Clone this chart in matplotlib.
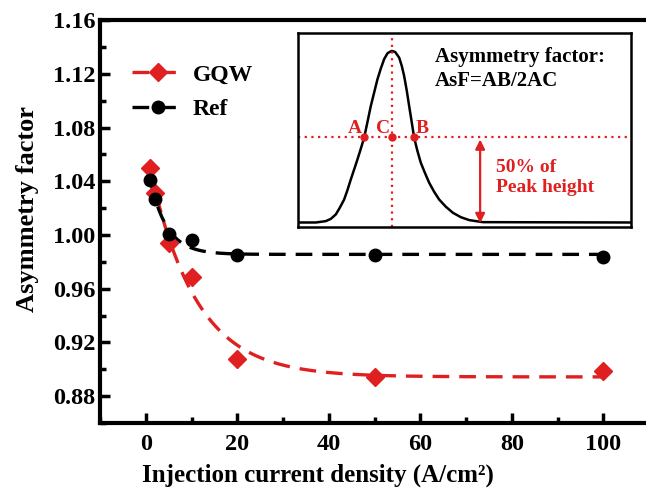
import numpy as np
import matplotlib
matplotlib.use("Agg")
import matplotlib.pyplot as plt
from matplotlib.ticker import MultipleLocator, FormatStrFormatter

# ---- data ----
current = [1, 2, 5, 10, 20, 50, 100]
gqw = [1.050, 1.031, 0.994, 0.969, 0.908, 0.894, 0.899]
ref = [1.041, 1.027, 1.001, 0.996, 0.985, 0.985, 0.984]

# inset schematic peak (arbitrary units)
peak_x = [0, 2.4, 5.4, 8.4, 9.9, 11.4, 12.6, 13.9, 14.9, 15.9, 16.9, 17.9, 18.9, 19.9,
          20.9, 21.9, 22.9, 23.9, 24.9, 25.9, 26.9, 27.2, 28.2, 29.2, 30.4, 31.2,
          31.9, 32.7, 33.4, 34.2, 34.9, 35.9, 36.9, 38.2, 39.4, 40.9, 42.4, 44.4,
          46.5, 48.9, 51.4, 55.5, 100]
peak_y = [0, 0.0, 0.0, 0.008, 0.021, 0.047, 0.086, 0.134, 0.189, 0.251, 0.309, 0.368,
          0.430, 0.494, 0.586, 0.679, 0.757, 0.835, 0.897, 0.952, 0.986, 0.99, 1.0,
          0.994, 0.961, 0.912, 0.854, 0.767, 0.679, 0.582, 0.494, 0.416, 0.348, 0.286,
          0.232, 0.179, 0.134, 0.092, 0.057, 0.031, 0.014, 0.002, 0]
pt_A, pt_C, pt_B = 19.9, 28.2, 34.9
half = 0.5
arrow_x = 54.7

RED = '#e02020'

plt.rcParams['font.family'] = ['Liberation Serif', 'DejaVu Serif']
plt.rcParams['font.weight'] = 'bold'


def expfit(x, y):
    x = np.asarray(x, float)
    y = np.asarray(y, float)
    best = None
    for t in np.linspace(1, 60, 2000):
        e = np.exp(-x / t)
        M = np.vstack([np.ones_like(x), e]).T
        coef, *_ = np.linalg.lstsq(M, y, rcond=None)
        r = np.sum((M @ coef - y) ** 2)
        if best is None or r < best[0]:
            best = (r, coef, t)
    _, (y0, a), t = best
    return lambda xx: y0 + a * np.exp(-xx / t)


fig = plt.figure(figsize=(6.46, 4.93), dpi=100)
ax = fig.add_axes([0.155, 0.142, 0.850, 0.817])

xx = np.linspace(1, 100, 400)
fg = expfit(current, gqw)
fr = expfit(current, ref)
dash = (0, (5, 3))
ax.plot(xx, fg(xx), color=RED, lw=2.4, linestyle=dash)
ax.plot(xx, fr(xx), color='black', lw=2.4, linestyle=dash)
ax.plot(current, gqw, linestyle='none', marker='D', ms=9, color=RED)
ax.plot(current, ref, linestyle='none', marker='o', ms=9, color='black')

# legend proxies
h1, = ax.plot([], [], color=RED, lw=2.4, linestyle=dash, marker='D', ms=9)
h2, = ax.plot([], [], color='black', lw=2.4, linestyle=dash, marker='o', ms=9)
ax.legend([h1, h2], ['GQW', 'Ref'], loc='upper left', bbox_to_anchor=(0.04, 0.915),
          frameon=False, prop=dict(size=17, weight='bold'), handlelength=2.2,
          labelspacing=0.55, borderaxespad=0, handletextpad=0.4)

ax.set_xlim(-10, 110)
ax.set_ylim(0.86, 1.16)
ax.xaxis.set_major_locator(MultipleLocator(20))
ax.xaxis.set_minor_locator(MultipleLocator(10))
ax.yaxis.set_minor_locator(MultipleLocator(0.02))
ax.set_yticks(np.arange(0.88, 1.161, 0.04))
ax.yaxis.set_major_formatter(FormatStrFormatter('%.2f'))
ax.tick_params(which='both', direction='in', width=2.5, labelsize=17.5)
ax.tick_params(which='major', length=7)
ax.tick_params(which='minor', length=4)
ax.tick_params(axis='x', pad=8)
for lab in ax.get_xticklabels() + ax.get_yticklabels():
    lab.set_fontweight('bold')
for s in ax.spines.values():
    s.set_linewidth(3)

ax.set_xlabel('Injection current density (A/cm\u00b2)', fontsize=18, fontweight='bold')
ax.xaxis.set_label_coords(0.397, -0.102)
ax.set_ylabel('Asymmetry factor', fontsize=19, fontweight='bold')
ax.yaxis.set_label_coords(-0.112, 0.531)

# ---- inset ----
ins = fig.add_axes([0.461, 0.540, 0.516, 0.394])
ins.plot(peak_x, peak_y, color='black', lw=1.8, solid_joinstyle='round')
ins.set_xlim(0, 100)
ins.set_ylim(-0.025, 1.107)
ins.set_xticks([])
ins.set_yticks([])
for s in ins.spines.values():
    s.set_linewidth(1.8)
ins.axvline(pt_C, color=RED, lw=1.6, linestyle=(0, (1, 2)))
ins.axhline(half, color=RED, lw=1.6, linestyle=(0, (1, 2)))
ins.plot([pt_A, pt_C, pt_B], [half] * 3, linestyle='none', marker='o', ms=5, color=RED)
ins.text(pt_A - 0.6, half + 0.0, 'A', color=RED, fontsize=14, ha='right', va='bottom')
ins.text(pt_C - 0.4, half + 0.0, 'C', color=RED, fontsize=14, ha='right', va='bottom')
ins.text(pt_B + 0.6, half + 0.0, 'B', color=RED, fontsize=14, ha='left', va='bottom')
ins.annotate('', xy=(arrow_x, half), xytext=(arrow_x, -0.02),
             arrowprops=dict(arrowstyle='<|-|>', color=RED, lw=1.6, mutation_scale=14))
ins.text(59.5, 0.263, '50% of\nPeak height', color=RED, fontsize=14,
         ha='left', va='center', linespacing=1.25)
ins.text(41.1, 0.893, 'Asymmetry factor:\nAsF=AB/2AC', color='black', fontsize=15,
         ha='left', va='center', linespacing=1.25)

fig.savefig('out.png', dpi=100)
